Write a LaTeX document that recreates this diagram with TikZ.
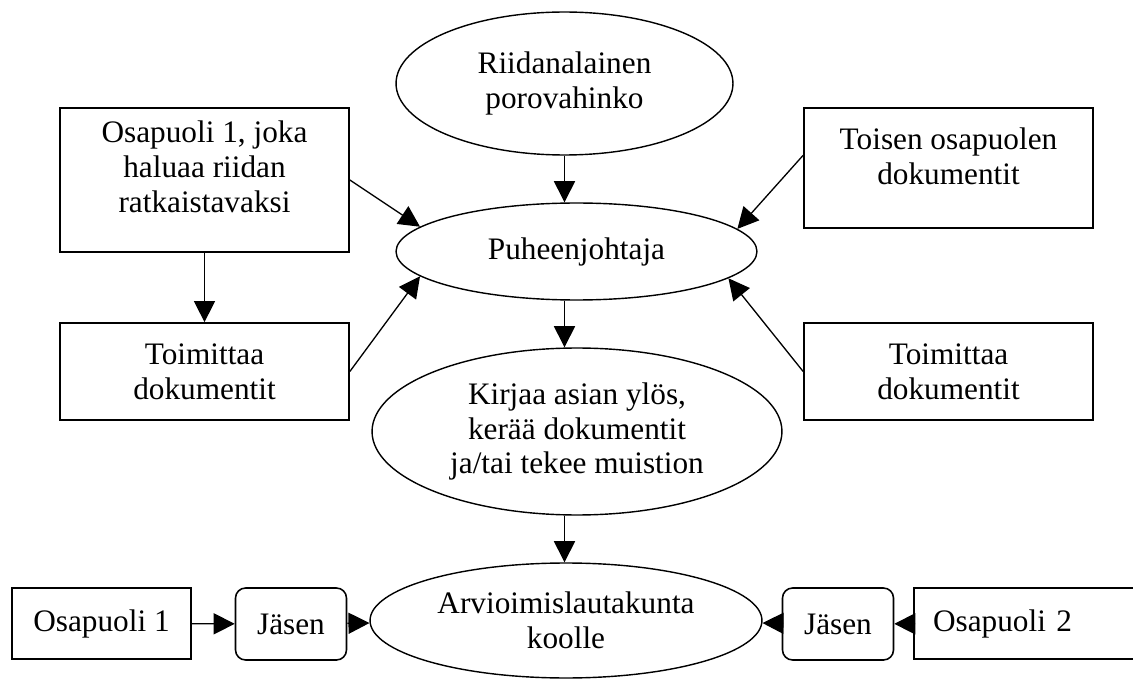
\documentclass[tikz,border=0pt]{standalone}
\usepackage{fontspec}
\setmainfont{Liberation Serif}
\usetikzlibrary{positioning, arrows.meta, shapes.geometric}

\begin{document}
\begin{tikzpicture}[x=0.02cm, y=-0.02cm, every node/.style={font=\fontsize{17.8}{19.9}\selectfont, align=center}]
  \tikzstyle{box} = [rectangle, draw=black, line width=1pt, inner sep=0pt, minimum width=5.78cm]
  \tikzstyle{oval} = [ellipse, draw=black, line width=0.8pt, inner sep=0pt]
  \tikzstyle{member} = [rectangle, rounded corners=0.2cm, draw=black, line width=0.9pt, minimum width=2.22cm, minimum height=1.44cm]
  \tikzstyle{party} = [rectangle, draw=black, line width=1pt, minimum height=1.42cm]
  \tikzstyle{arrow} = [line width=0.75pt, -{Triangle[length=12pt, width=12pt]}]

  \useasboundingbox (0,0) rectangle (1133,682);

  % middle column
  \node (dispute) [oval, minimum width=6.74cm, minimum height=2.86cm] at (564.5,83.5) {Riidanalainen\\porovahinko};
  \node (chair) [oval, minimum width=7.22cm, minimum height=1.94cm] at (576.5,251.5) {Puheenjohtaja};
  \node (record) [oval, minimum width=8.2cm, minimum height=3.34cm] at (577,431.5) {Kirjaa asian ylös,\\kerää dokumentit\\ja/tai tekee muistion};
  \node (board) [oval, minimum width=7.84cm, minimum height=2.3cm] at (566,620.5) {Arvioimislautakunta\\koolle};

  % left and right columns (text sits high in the two upper boxes)
  \node (party1) [box, minimum height=2.88cm] at (204.5,180) {Osapuoli 1, joka\\haluaa riidan\\ratkaistavaksi\rule[-0.52cm]{0pt}{0pt}};
  \node (deliver1) [box, minimum height=1.94cm] at (204.5,371.5) {Toimittaa\\dokumentit};
  \node (otherdocs) [box, minimum height=2.4cm] at (948.5,168) {Toisen osapuolen\\dokumentit\rule[-0.48cm]{0pt}{0pt}};
  \node (deliver2) [box, minimum height=1.94cm] at (948.5,371.5) {Toimittaa\\dokumentit};

  % bottom row
  \node (side1) [party, minimum width=3.58cm] at (101.5,623.5) {Osapuoli 1};
  \node (member1) [member] at (291,624) {Jäsen};
  \node (member2) [member] at (838,624) {Jäsen};
  \node (side2) [party, minimum width=4.72cm, inner xsep=0.38cm, text width=3.96cm, align=left] at (1032,623.5) {Osapuoli 2};

  \draw [arrow] (dispute.south) -- (dispute.south |- chair.north);
  \draw [arrow] (party1.east) -- (chair.171);
  \draw [arrow] (party1) -- (deliver1);
  \draw [arrow] (deliver1.east) -- (chair.189.5);
  \draw [arrow] (otherdocs.175.6) -- (chair.8.9);
  \draw [arrow] (deliver2.west) -- (chair.350.7);
  \draw [arrow] (chair.south -| dispute.south) -- (record.north -| dispute.south);
  \draw [arrow] (record.south -| dispute.south) -- (board.north -| dispute.south);
  \draw [arrow] (side1) -- (member1);
  \draw [arrow] (member1) -- (board);
  \draw [arrow] (side2) -- (member2);
  \draw [arrow] (member2) -- (board);
\end{tikzpicture}
\end{document}
